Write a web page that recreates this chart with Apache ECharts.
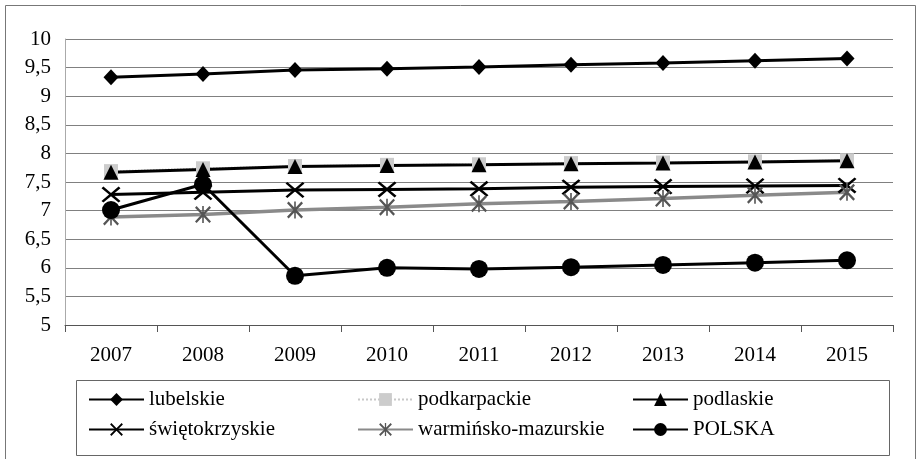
<!DOCTYPE html>
<html><head><meta charset="utf-8">
<script src="https://cdn.jsdelivr.net/npm/echarts@6/dist/echarts.min.js"></script>
<style>html,body{margin:0;padding:0;background:#fff}#c{width:919px;height:459px}</style>
</head><body><div id="c"></div>
<script>
const years = ['2007','2008','2009','2010','2011','2012','2013','2014','2015'];
const lubelskie = [9.33,9.39,9.46,9.48,9.51,9.55,9.58,9.62,9.66];
const podkarpackie = [7.69,7.74,7.78,7.80,7.81,7.83,7.84,7.86,7.88];
const podlaskie = [7.67,7.72,7.77,7.79,7.80,7.82,7.83,7.85,7.87];
const swietokrzyskie = [7.28,7.32,7.36,7.37,7.38,7.41,7.42,7.43,7.44];
const warminsko = [6.89,6.93,7.01,7.06,7.12,7.16,7.21,7.27,7.32];
const polska = [7.01,7.46,5.86,6.00,5.98,6.01,6.05,6.09,6.13];
const yTicks = {min:5, max:10, interval:0.5};

const FONT = '"Liberation Serif","Times New Roman",serif';
const X_PATH = 'path://M0,2 L2,0 L10,8 L18,0 L20,2 L12,10 L20,18 L18,20 L10,12 L2,20 L0,18 L8,10 Z';
const AST_PATH = 'path://M0,2 L2,0 L10,8 L18,0 L20,2 L12,10 L20,18 L18,20 L10,12 L2,20 L0,18 L8,10 Z M9,0 L11,0 L11,20 L9,20 Z';

function ser(name, data, symbol, size, color, lineColor, lineWidth, lineType) {
  return {
    name, type:'line', data, symbol, symbolSize:size, showSymbol:true,
    lineStyle:{color:lineColor, width:lineWidth, type:lineType||'solid'},
    itemStyle:{color:color, borderWidth:0},
    emphasis:{disabled:true}, animation:false
  };
}
const series = [
  ser('lubelskie', lubelskie, 'diamond', [15,16], '#000', '#000', 3),
  ser('podkarpackie', podkarpackie, 'rect', 14, '#cccccc', '#c8c8c8', 1.5, 'dotted'),
  ser('podlaskie', podlaskie, 'triangle', [15,15], '#000', '#000', 3),
  ser('świętokrzyskie', swietokrzyskie, X_PATH, [19,16], '#000', '#000', 3),
  ser('warmińsko-mazurskie', warminsko, AST_PATH, [16,17], '#555', '#8a8a8a', 3.5),
  ser('POLSKA', polska, 'circle', 18, '#000', '#000', 3)
];

function leg(names, left) {
  return {
    data: names, orient:'vertical', left: left, top: 389,
    itemWidth: 55, itemHeight: 16, itemGap: 9,
    textStyle:{fontFamily:FONT, fontSize:21, color:'#000', padding:[0,0,0,0]},
    selectedMode:false, padding:0
  };
}

const chart = echarts.init(document.getElementById('c'), null, {renderer:'canvas'});
chart.setOption({
  backgroundColor:'#fff',
  animation:false,
  grid:{left:65, right:26, top:39, bottom:134, containLabel:false},
  legend:[
    leg(['lubelskie','świętokrzyskie'], 88),
    leg(['podkarpackie','warmińsko-mazurskie'], 357),
    leg(['podlaskie','POLSKA'], 632)
  ],
  xAxis:{
    type:'category', data:years, boundaryGap:true,
    axisLine:{lineStyle:{color:'#555', width:1}},
    axisTick:{show:true, length:7, lineStyle:{color:'#555'}},
    axisLabel:{fontFamily:FONT, fontSize:21, color:'#000', margin:20}
  },
  yAxis:{
    type:'value', min:yTicks.min, max:yTicks.max, interval:yTicks.interval,
    axisLine:{show:true, lineStyle:{color:'#aaa'}},
    axisTick:{show:false},
    axisLabel:{fontFamily:FONT, fontSize:21, color:'#000', margin:14,
      formatter: v => String(v).replace('.', ',')},
    splitLine:{lineStyle:{color:'#808080', width:1}}
  },
  graphic:[
    {type:'rect', shape:{x:5.5, y:5.5, width:910, height:460}, style:{fill:null, stroke:'#777', lineWidth:1}, silent:true},
    {type:'rect', shape:{x:76.5, y:380.5, width:813, height:75}, style:{fill:null, stroke:'#666', lineWidth:1}, silent:true}
  ],
  series
});
</script></body></html>
